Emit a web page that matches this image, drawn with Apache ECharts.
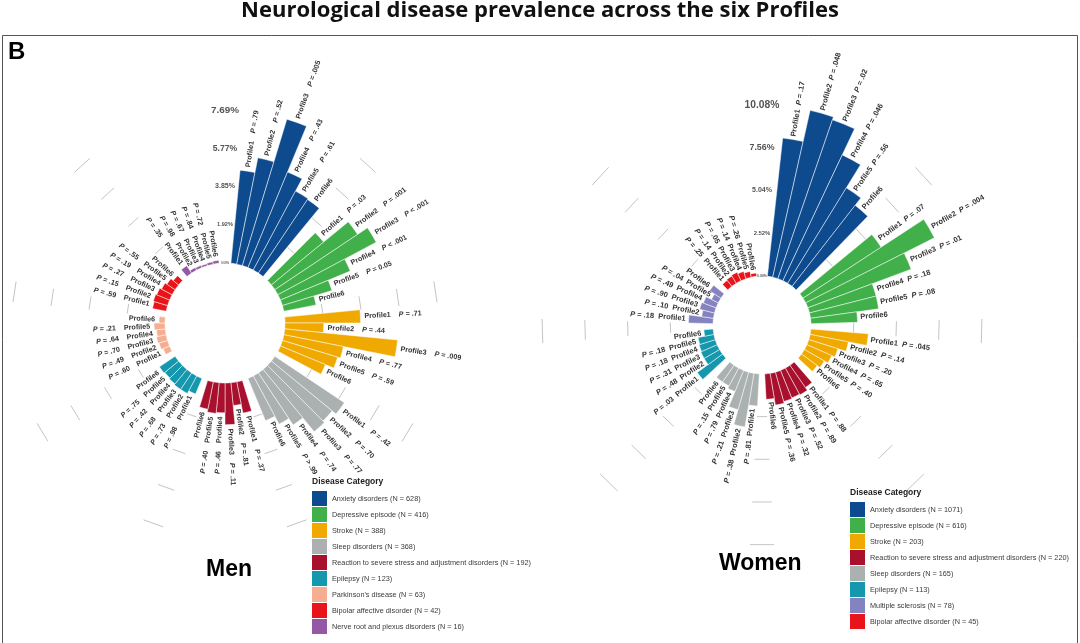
<!DOCTYPE html>
<html><head><meta charset="utf-8">
<script src="https://cdn.jsdelivr.net/npm/echarts@6/dist/echarts.min.js"></script>
<style>html,body{margin:0;padding:0;background:#fff}#c{width:1080px;height:643px}</style>
</head><body><div id="c"></div>
<script>
const profiles = ['Profile1','Profile2','Profile3','Profile4','Profile5','Profile6'];

// ---- Men ----
const menCategories = ['Anxiety disorders','Depressive episode','Stroke','Sleep disorders','Reaction to severe stress and adjustment disorders','Epilepsy',"Parkinson's disease",'Bipolar affective disorder','Nerve root and plexus disorders'];
const menN = [628,416,388,368,192,123,63,42,16];
const menColors = ['#0d4a8e','#41b04a','#f0a900','#abb0b0','#a8102e','#1598ae','#f6ae92','#e8141a','#9558a2'];
const menValues = [
  [4.7,5.45,7.69,5.2,4.5,4.45],
  [3.4,5.0,5.6,3.8,2.6,1.65],
  [3.8,1.95,5.7,3.05,2.9,2.45],
  [4.2,3.95,4.05,3.15,2.75,2.3],
  [1.6,1.15,2.1,1.5,1.55,1.4],
  [0.85,1.0,1.0,0.95,0.9,0.95],
  [0.35,0.45,0.5,0.45,0.55,0.3],
  [0.7,0.75,0.7,0.6,0.5,0.35],
  [0.45,0.15,0.12,0.1,0.12,0.15]
];
const menP = [
  ['= .79','= .52','= .005','= .43','= .61',''],
  ['= .03','= .001','< .001','< .001','= 0.05',''],
  ['= .71','= .44','= .009','= .77','= .59',''],
  ['= .42','= .70','= .77','= .74','> .99',''],
  ['= .37','= .81','= .11','= .46','= .40',''],
  ['= .98','= .73','= .68','= .42','= .75',''],
  ['= .60','= .49','= .70','= .64','= .21',''],
  ['= .59','= .15','= .27','= .19','= .55',''],
  ['= .35','= .98','= .67','= .84','= .72','']
];
const menTickValues = [0,1.92,3.85,5.77,7.69];
const menTickLabels = ['0.00%','1.92%','3.85%','5.77%','7.69%'];

// ---- Women ----
const womenCategories = ['Anxiety disorders','Depressive episode','Stroke','Reaction to severe stress and adjustment disorders','Sleep disorders','Epilepsy','Multiple sclerosis','Bipolar affective disorder'];
const womenN = [1071,616,203,220,165,113,78,45];
const womenColors = ['#0d4a8e','#41b04a','#f0a900','#a8102e','#abb0b0','#1598ae','#8582c0','#e8141a'];
const womenValues = [
  [8.2,10.08,9.9,8.2,6.6,6.05],
  [5.5,8.5,6.5,4.05,4.05,2.75],
  [3.4,2.3,1.8,1.6,1.35,1.15],
  [1.6,1.8,1.75,1.8,1.9,1.5],
  [1.9,3.2,2.3,1.35,1.2,1.2],
  [1.85,1.05,1.05,1.0,0.95,0.55],
  [1.45,0.7,0.9,0.8,0.45,0.8],
  [0.45,0.5,0.55,0.45,0.35,0.2]
];
const womenP = [
  ['= .17','= .048','= .02','= .046','= .56',''],
  ['= .07','= .004','= .01','= .18','= .08',''],
  ['= .045','= .14','= .20','= .65','= .40',''],
  ['= .88','= .89','= .52','= .32','= .36',''],
  ['= .81','= .38','= .21','= .79','= .15',''],
  ['= .03','= .48','= .31','= .18','= .18',''],
  ['= .18','= .10','= .90','= .49','= .04',''],
  ['= .25','= .14','= .05','= .14','= .26','']
];
const womenTickValues = [0,2.52,5.04,7.56,10.08];
const womenTickLabels = ['0.00%','2.52%','5.04%','7.56%','10.08%'];

const FF = 'Liberation Sans, Arial, sans-serif';

function slotOf(c, j) { return 1 + c * 7 + j; }

function buildChart(pi, cats, ns, colors, values, pvals, tickVals, tickLabels, tickSizes, gapStr, fs, offset) {
  const nCat = cats.length;
  const nSlots = nCat * 7 + 1;
  const series = [];
  const names = [];
  cats.forEach((cat, c) => {
    const name = cat + ' (N = ' + ns[c] + ')';
    names.push(name);
    const data = new Array(nSlots).fill(null);
    values[c].forEach((v, j) => { data[slotOf(c, j)] = v; });
    series.push({
      name, type: 'bar', coordinateSystem: 'polar', polarIndex: pi, stack: 'st' + pi,
      data, barCategoryGap: '0%', z: 2, silent: true,
      itemStyle: { color: colors[c], borderColor: '#fff', borderWidth: 0.5 }
    });
  });
  const segData = [];
  for (let c = 1; c < nCat; c++) for (let k = 1; k < tickVals.length; k++) segData.push([tickVals[k], c * 7]);
  series.push({
    type: 'custom', coordinateSystem: 'polar', polarIndex: pi, z: 1, silent: true, data: segData,
    renderItem(params, api) {
      const p = api.coord([api.value(0), api.value(1)]);
      const cs = params.coordSys;
      const dx = p[0] - cs.cx, dy = p[1] - cs.cy, r = Math.hypot(dx, dy);
      const a = Math.atan2(dy, dx), h = Math.PI / nSlots;
      return { type: 'line', shape: { x1: cs.cx + r * Math.cos(a - h), y1: cs.cy + r * Math.sin(a - h), x2: cs.cx + r * Math.cos(a + h), y2: cs.cy + r * Math.sin(a + h) },
        style: { stroke: '#c4c4c4', lineWidth: 1 } };
    }
  });
  const labData = [];
  values.forEach((arr, c) => arr.forEach((v, j) => labData.push([v, slotOf(c, j), c, j])));
  series.push({
    type: 'custom', coordinateSystem: 'polar', polarIndex: pi, z: 3, silent: true, data: labData,
    renderItem(params, api) {
      const v = api.value(0), slot = api.value(1), c = api.value(2), j = api.value(3);
      const p = api.coord([v, slot]);
      const cs = params.coordSys;
      const dx = p[0] - cs.cx, dy = p[1] - cs.cy, L = Math.hypot(dx, dy);
      const ux = dx / L, uy = dy / L;
      const right = ux > 0;
      const pv = pvals[c][j];
      const pt = pv ? '{p|P} ' + pv : '';
      const prof = profiles[j];
      const text = pv ? (right ? prof + gapStr + pt : pt + gapStr + prof) : prof;
      return {
        type: 'text', x: p[0] + ux * offset, y: p[1] + uy * offset,
        rotation: right ? Math.atan2(-uy, ux) : Math.atan2(uy, -ux),
        style: { text, align: right ? 'left' : 'right', verticalAlign: 'middle', fontSize: fs, fontWeight: 'bold', fontFamily: FF, fill: '#333',
          rich: { p: { fontStyle: 'italic', fontWeight: 'bold', fontSize: fs, fontFamily: FF, fill: '#333' } } }
      };
    }
  });
  series.push({
    type: 'custom', coordinateSystem: 'polar', polarIndex: pi, z: 3, silent: true,
    data: tickVals.map((t, i) => [t, 0, i]),
    renderItem(params, api) {
      const p = api.coord([api.value(0), api.value(1)]);
      const cs = params.coordSys;
      const r = Math.hypot(p[0] - cs.cx, p[1] - cs.cy);
      const i = api.value(2);
      return { type: 'text', x: cs.cx, y: cs.cy - r, style: { text: tickLabels[i], align: 'center', verticalAlign: 'middle', fontSize: tickSizes[i], fontWeight: 'bold', fontFamily: FF, fill: '#555' } };
    }
  });
  const angleAxis = { polarIndex: pi, type: 'category', data: Array.from({ length: nSlots }, (_, i) => 's' + i), startAngle: 90, clockwise: true,
    axisLine: { show: false }, axisTick: { show: false }, axisLabel: { show: false }, splitLine: { show: false } };
  const radiusAxis = { polarIndex: pi, type: 'value', min: 0, max: tickVals[tickVals.length - 1],
    axisLine: { show: false }, axisTick: { show: false }, axisLabel: { show: false }, splitLine: { show: false } };
  return { series, names, angleAxis, radiusAxis };
}

const men = buildChart(0, menCategories, menN, menColors, menValues, menP, menTickValues, menTickLabels, [2.8, 5.6, 7, 8.6, 9.9], '    ', 7.2, 4);
const women = buildChart(1, womenCategories, womenN, womenColors, womenValues, womenP, womenTickValues, womenTickLabels, [3.5, 5.9, 7, 8.8, 10.3], '  ', 7.5, 3);

const legendBase = { orient: 'vertical', itemWidth: 15, itemHeight: 15, itemGap: 1, icon: 'rect', padding: 0, selectedMode: false,
  height: 170, itemStyle: { borderWidth: 0 }, textStyle: { fontSize: 7.3, color: '#3a3a3a', fontFamily: FF } };

const chart = echarts.init(document.getElementById('c'));
chart.setOption({
  animation: false,
  backgroundColor: '#fff',
  title: [
    { text: 'Neurological disease prevalence across the six Profiles', left: 'center', top: 0, padding: 0, textStyle: { fontSize: 22, fontWeight: 'bold', fontFamily: 'Open Sans', color: '#111' } },
    { text: 'B', left: 8, top: 40, padding: 0, textStyle: { fontSize: 24, fontWeight: 'bold', fontFamily: FF, color: '#000' } },
    { text: 'Men', left: 206, top: 558, padding: 0, textStyle: { fontSize: 23, fontWeight: 'bold', fontFamily: FF, color: '#000' } },
    { text: 'Women', left: 719, top: 552, padding: 0, textStyle: { fontSize: 23, fontWeight: 'bold', fontFamily: FF, color: '#000' } },
    { text: 'Disease Category', left: 312, top: 477, padding: 0, textStyle: { fontSize: 8.5, fontWeight: 'bold', fontFamily: FF, color: '#222' } },
    { text: 'Disease Category', left: 850, top: 488, padding: 0, textStyle: { fontSize: 8.5, fontWeight: 'bold', fontFamily: FF, color: '#222' } }
  ],
  graphic: [{ type: 'rect', shape: { x: 2.5, y: 35.5, width: 1075, height: 620 }, style: { fill: 'none', stroke: '#555', lineWidth: 1 }, silent: true }],
  legend: [
    Object.assign({}, legendBase, { data: men.names, left: 312, top: 491 }),
    Object.assign({}, legendBase, { data: women.names, left: 850, top: 502 })
  ],
  polar: [
    { center: [225, 323], radius: [60, 213] },
    { center: [762, 325], radius: [49, 220] }
  ],
  angleAxis: [men.angleAxis, women.angleAxis],
  radiusAxis: [men.radiusAxis, women.radiusAxis],
  series: men.series.concat(women.series)
});
</script></body></html>
